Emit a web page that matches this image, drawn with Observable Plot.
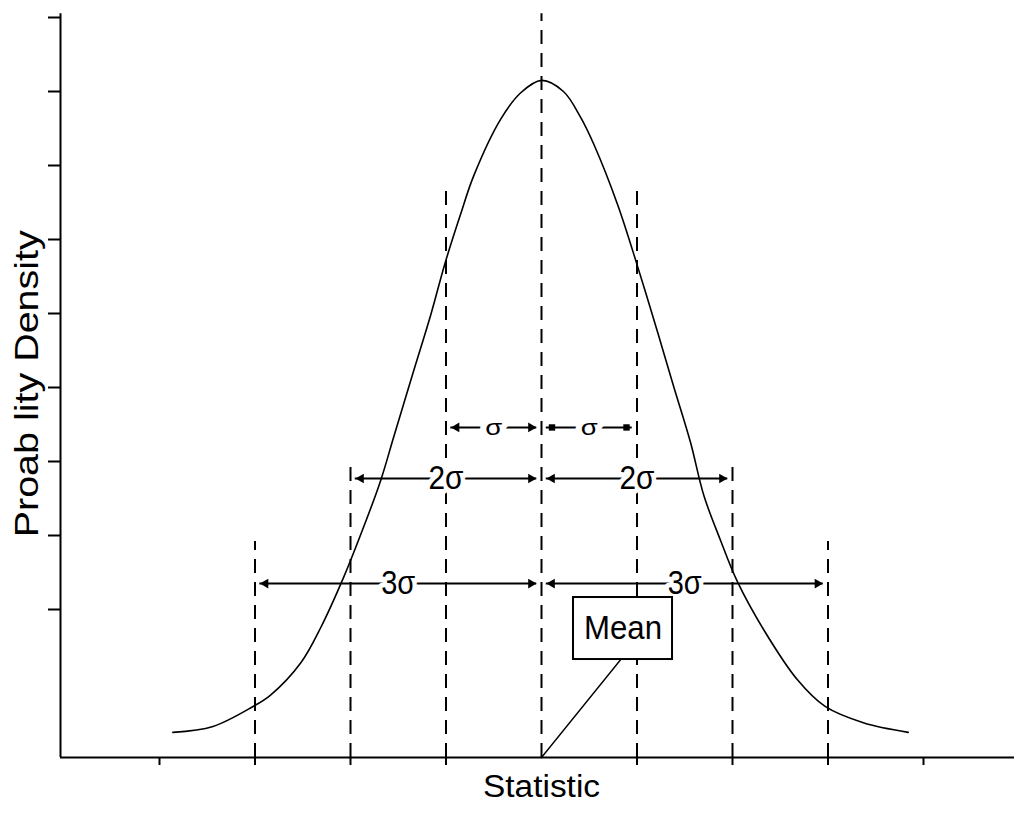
<!DOCTYPE html>
<html>
<head>
<meta charset="utf-8">
<script src="https://cdn.jsdelivr.net/npm/d3@7"></script>
<script src="https://cdn.jsdelivr.net/npm/@observablehq/plot@0.6"></script>
<style>
  html, body { margin: 0; padding: 0; background: #fff; }
  #chart svg { display: block; font-family: "Liberation Sans Narrow", "Liberation Sans", Arial, sans-serif; }
  #chart svg g[aria-label="x-axis tick"] path,
  #chart svg g[aria-label="y-axis tick"] path { stroke-width: 2px; }
</style>
</head>
<body>
<div id="chart"></div>
<script>
// ---- data (x in sigma units, y in axis tick units) ----
const xTicks = [-4, -3, -2, -1, 1, 2, 3, 4];
const yTicks = [2, 3, 4, 5, 6, 7, 8, 9, 10];

const curveX = [-3.86, -3.44, -3.02, -2.84, -2.52, -2.31, -2.08, -1.90, -1.69, -1.55, -1.34, -1.16, -1.01, -0.85, -0.71, -0.43, -0.22, 0.00,
                 0.23, 0.41, 0.55, 0.80, 1.01, 1.22, 1.38, 1.56, 1.70, 1.87, 2.05, 2.33, 2.68, 2.97, 3.37, 3.84];
const curveY = [0.34, 0.42, 0.69, 0.84, 1.28, 1.76, 2.41, 2.99, 3.72, 4.32, 5.22, 5.98, 6.68, 7.33, 7.86, 8.62, 8.98, 9.15,
                9.00, 8.65, 8.28, 7.46, 6.62, 5.73, 5.03, 4.26, 3.54, 2.95, 2.38, 1.72, 1.05, 0.69, 0.47, 0.34];

const guideX   = [-3, -2, -1, 0, 1, 2, 3];
const guideTop = [2.92, 4.01, 7.70, 10.05, 7.70, 4.01, 2.92];

const spanLabel = ["σ", "σ", "2σ", "2σ", "3σ", "3σ"];
const spanFrom  = [-1, 0, -2, 0, -3, 0];
const spanTo    = [0, 1, 0, 2, 0, 3];
const spanY     = [4.46, 4.46, 3.77, 3.77, 2.35, 2.35];
const spanHead  = ["triangle", "square", "triangle", "triangle", "triangle", "triangle"];

const meanLabel = "Mean";
const meanBoxX = [0.335, 1.372];
const meanBoxY = [1.324, 2.162];
const meanPointerX = [0.83, 0.0];
const meanPointerY = [1.324, 0.0];

const xTitle = "Statistic";
const yTitle = "Proab lity Density";

// ---- tables built from the arrays ----
const curve = curveX.map((x, i) => ({x, y: curveY[i]}));
const guides = guideX.map((x, i) => ({x, top: guideTop[i]}));
const spans = spanLabel.map((label, i) => ({
  label, from: spanFrom[i], to: spanTo[i], y: spanY[i], head: spanHead[i],
  mid: (spanFrom[i] + spanTo[i]) / 2
}));
const heads = spans.flatMap(s => [
  {x: s.from + 0.11, y: s.y, symbol: s.head, rotate: s.head === "triangle" ? -90 : 0},
  {x: s.to - 0.11, y: s.y, symbol: s.head, rotate: s.head === "triangle" ? 90 : 0}
]);
const pointer = meanPointerX.map((x, i) => ({x, y: meanPointerY[i]}));

const W = 1014, H = 814;
const mL = 60, mR = 0, mT = 17, mB = 57;
const pxPerX = 95.5;
const xDomain = [-(541 - mL) / pxPerX, (W - mR - 541) / pxPerX];

const plot = Plot.plot({
  width: W,
  height: H,
  marginLeft: mL,
  marginRight: mR,
  marginTop: mT,
  marginBottom: mB,
  style: {background: "white", color: "black"},
  x: {domain: xDomain, ticks: xTicks, tickSize: 8, tickFormat: () => "", label: null},
  y: {domain: [0, 10], ticks: yTicks, tickSize: 12, tickFormat: () => "", label: null},
  marks: [
    // axis lines
    Plot.ruleY([0], {stroke: "black", strokeWidth: 2}),
    Plot.ruleX([xDomain[0]], {y1: 0, y2: 10.05, stroke: "black", strokeWidth: 2}),
    // dashed guides
    Plot.ruleX(guides, {x: "x", y1: 0, y2: "top", stroke: "black", strokeWidth: 2, strokeDasharray: "14,9"}),
    // curve
    Plot.line(curve, {x: "x", y: "y", stroke: "black", strokeWidth: 1.6, curve: "catmull-rom"}),
    // span lines
    Plot.ruleY(spans, {y: "y", x1: d => d.from + 0.05, x2: d => d.to - 0.05, stroke: "black", strokeWidth: 2}),
    Plot.dot(heads, {x: "x", y: "y", symbol: "symbol", rotate: "rotate", r: 3.6, fill: "black", stroke: "none"}),
    Plot.text(spans, {x: "mid", y: "y", text: "label", fontSize: d => d.label === "σ" ? 22 : 33,
      stroke: "white", strokeWidth: 10, fill: "black"}),
    // Mean callout
    Plot.line(pointer, {x: "x", y: "y", stroke: "black", strokeWidth: 1.4}),
    Plot.rect([0], {x1: meanBoxX[0], x2: meanBoxX[1], y1: meanBoxY[0], y2: meanBoxY[1], fill: "white", stroke: "black", strokeWidth: 2}),
    Plot.text([meanLabel], {x: (meanBoxX[0] + meanBoxX[1]) / 2, y: (meanBoxY[0] + meanBoxY[1]) / 2, text: d => d, fontSize: 34, fill: "black"}),
    // titles
    Plot.text([xTitle], {x: 0, frameAnchor: "bottom", dy: 39, text: d => d, fontSize: 31, fill: "black"}),
    Plot.text([yTitle], {y: 5.05, frameAnchor: "left", textAnchor: "middle", dx: -33, rotate: -90, text: d => d, fontSize: 33, fill: "black"})
  ]
});

document.getElementById("chart").appendChild(plot);

// fit text widths to the reference
const widths = {"Statistic": 117, "Proab lity Density": 307, "Mean": 78, "2σ": 35, "3σ": 34, "σ": 17};
d3.select(plot).selectAll("text").each(function () {
  const t = this.textContent;
  if (widths[t] !== undefined) {
    this.setAttribute("textLength", widths[t]);
    this.setAttribute("lengthAdjust", "spacingAndGlyphs");
  }
});
</script>
</body>
</html>
